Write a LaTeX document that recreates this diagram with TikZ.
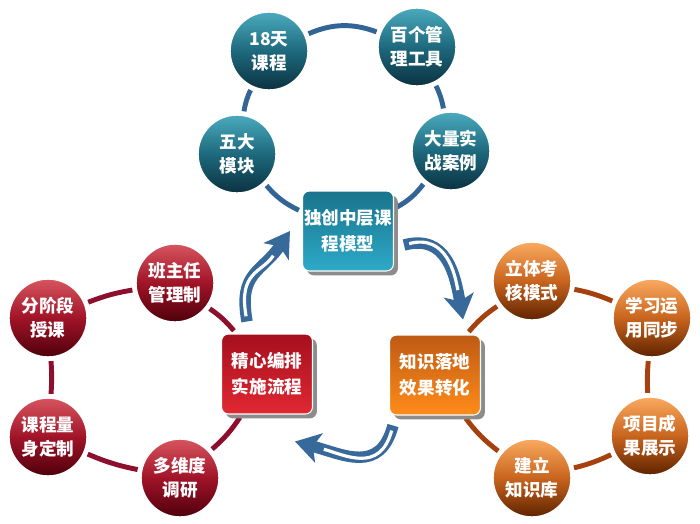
\documentclass[tikz,border=0pt]{standalone}
\usepackage{fontspec}
\usepackage{tikz}
\usetikzlibrary{arrows.meta, calc, shadows, backgrounds}
\newfontfamily\cjk{Noto Sans CJK SC}
\definecolor{tealtop}{RGB}{75,170,190}
\definecolor{tealmid}{RGB}{30,105,125}
\definecolor{tealbot}{RGB}{10,50,65}
\definecolor{redtop}{RGB}{215,85,95}
\definecolor{redmid}{RGB}{160,20,40}
\definecolor{redbot}{RGB}{80,0,12}
\definecolor{orangetop}{RGB}{250,170,95}
\definecolor{orangemid}{RGB}{200,100,30}
\definecolor{orangebot}{RGB}{95,35,0}
\definecolor{tealboxtop}{RGB}{25,115,140}
\definecolor{tealboxbot}{RGB}{45,170,200}
\definecolor{redboxtop}{RGB}{165,15,30}
\definecolor{redboxbot}{RGB}{225,40,50}
\definecolor{orangeboxtop}{RGB}{190,90,20}
\definecolor{orangeboxbot}{RGB}{255,140,25}
\definecolor{ringblue}{RGB}{50,100,150}
\definecolor{ringred}{RGB}{140,15,45}
\definecolor{ringorange}{RGB}{165,65,15}
\definecolor{arrowblue}{RGB}{55,105,155}
\tikzset{
	ball/.style={circle, minimum size=1.56cm, inner sep=0pt, draw=white, line width=0.8pt, text=white, align=center, font=\cjk\bfseries\fontsize{10}{13.5}\selectfont},
	tealball/.style={ball, top color=tealtop, bottom color=tealbot, middle color=tealmid},
	redball/.style={ball, top color=redtop, bottom color=redbot, middle color=redmid},
	orangeball/.style={ball, top color=orangetop, bottom color=orangebot, middle color=orangemid},
	modelbox/.style={rounded corners=4pt, minimum width=1.82cm, minimum height=1.6cm, inner sep=0pt, draw=white, line width=0.6pt, text=white, align=center, font=\cjk\bfseries\fontsize{10}{15}\selectfont, drop shadow={shadow xshift=2.5pt, shadow yshift=-2.5pt, fill=black!45, opacity=1}},
	ringline/.style={line width=2.8pt, shorten <=2pt, shorten >=2pt},
	cyclearrow/.style={line width=6.5pt, arrowblue, -{Stealth[length=14pt, width=17pt, inset=3.5pt]}},
	hollow/.style={line width=1.8pt, white, shorten <=3pt, shorten >=17pt},
}

\begin{document}
\begin{tikzpicture}[x=0.02cm, y=-0.02cm]
	\useasboundingbox (0,0) rectangle (700,524);

	% teal model
	\node[modelbox, top color=tealboxtop, bottom color=tealboxbot] (model) at (348,231) {独创中层课\\程模型};
	\node[tealball] (eighteen) at (269,51) {18天\\课程};
	\node[tealball] (tools) at (417,47) {百个管\\理工具};
	\node[tealball] (modules) at (237,154) {五大\\模块};
	\node[tealball] (cases) at (451,151) {大量实\\战案例};

	% red flow
	\node[modelbox, top color=redboxtop, bottom color=redboxbot] (flow) at (267,374) {精心编排\\实施流程};
	\node[redball] (tutor) at (175,283) {班主任\\管理制};
	\node[redball] (stages) at (48,318) {分阶段\\授课};
	\node[redball] (tailor) at (48,437) {课程量\\身定制};
	\node[redball] (survey) at (180,478) {多维度\\调研};

	% orange result
	\node[modelbox, top color=orangeboxtop, bottom color=orangeboxbot] (result) at (435,375) {知识落地\\效果转化};
	\node[orangeball] (exam) at (532,281) {立体考\\核模式};
	\node[orangeball] (practice) at (652,318) {学习运\\用同步};
	\node[orangeball] (showcase) at (650,436) {项目成\\果展示};
	\node[orangeball] (library) at (532,478) {建立\\知识库};

	\begin{scope}[on background layer]
		\draw[ringline, ringblue] (model) to[bend left=12] (modules);
		\draw[ringline, ringblue] (modules) to[bend left=8] (eighteen);
		\draw[ringline, ringblue] (eighteen) to[bend left=22] (tools);
		\draw[ringline, ringblue] (tools) to[bend left=8] (cases);
		\draw[ringline, ringblue] (cases) to[bend left=12] (model);

		\draw[ringline, ringred] (flow) to[bend left=8] (survey);
		\draw[ringline, ringred] (survey) to[bend left=6] (tailor);
		\draw[ringline, ringred] (tailor) to[bend right=4] (stages);
		\draw[ringline, ringred] (stages) to[bend left=6] (tutor);
		\draw[ringline, ringred] (tutor) to[bend left=8] (flow);

		\draw[ringline, ringorange] (result) to[bend left=8] (exam);
		\draw[ringline, ringorange] (exam) to[bend left=6] (practice);
		\draw[ringline, ringorange] (practice) to[bend right=4] (showcase);
		\draw[ringline, ringorange] (showcase) to[bend left=6] (library);
		\draw[ringline, ringorange] (library) to[bend left=8] (result);
	\end{scope}

	% cycle arrows
	\coordinate (leftfrom) at ($(flow.north)+(-20,-12)$);
	\coordinate (leftto) at ($(model.west)+(-12,0)$);
	\coordinate (rightfrom) at ($(model.east)+(10,14)$);
	\coordinate (rightto) at ($(result.north)+(28,-15)$);
	\coordinate (bottomfrom) at ($(result.south)+(-42,10)$);
	\coordinate (bottomto) at ($(flow.south)+(28,27)$);

	\draw[cyclearrow] (leftfrom) to[out=100, in=236, looseness=1.3] (leftto);
	\draw[hollow] (leftfrom) to[out=100, in=236, looseness=1.3] (leftto);
	\draw[cyclearrow] (rightfrom) to[out=15, in=100, looseness=1.2] (rightto);
	\draw[hollow] (rightfrom) to[out=15, in=100, looseness=1.2] (rightto);
	\draw[cyclearrow] (bottomfrom) to[out=255, in=-15, looseness=1.3] (bottomto);
	\draw[hollow] (bottomfrom) to[out=255, in=-15, looseness=1.3] (bottomto);

\end{tikzpicture}
\end{document}
